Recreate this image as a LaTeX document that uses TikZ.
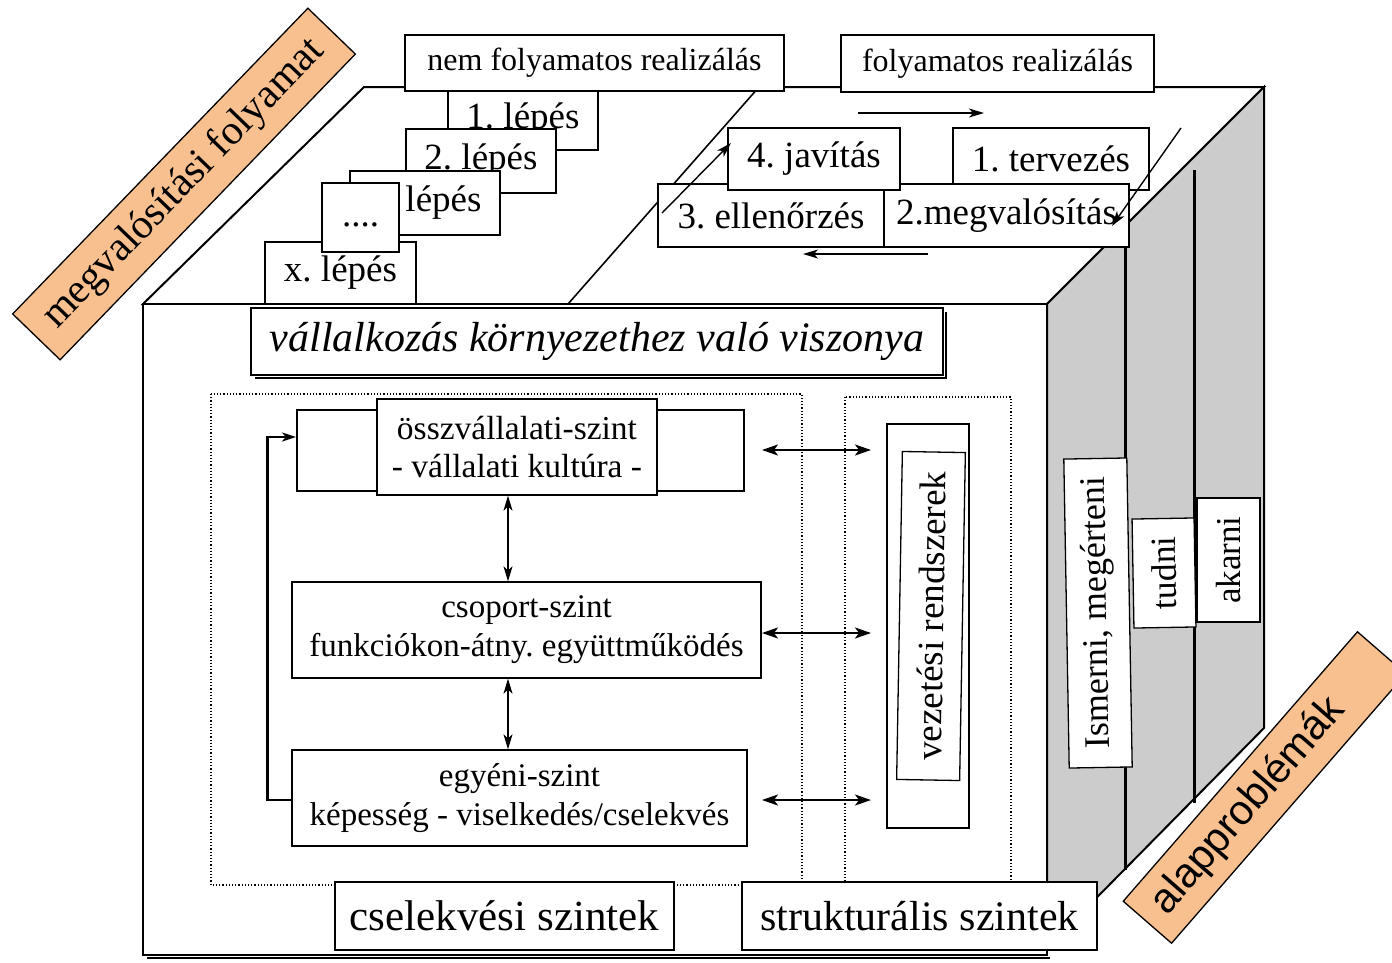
\documentclass[tikz,border=0pt]{standalone}
\usepackage{fontspec}
\setmainfont{Liberation Serif}
\newfontfamily\labelsans{Liberation Sans}
\usetikzlibrary{arrows.meta}
\newcommand\setfs[1]{\fontsize{#1}{#1}\selectfont}
\definecolor{peach}{HTML}{F9C08F}
\definecolor{sidegray}{HTML}{CCCCCC}
\frenchspacing

\begin{document}
\begin{tikzpicture}[x=1pt, y=-1pt,
  box/.style={draw, fill=white, line width=1.3pt, inner sep=0pt, align=center},
  thickbox/.style={box, line width=2pt},
  label/.style={draw, fill=peach, line width=1.3pt, inner sep=0pt},
  cubeedge/.style={line width=2pt, line join=miter},
  arr/.style={line width=1.4pt, -{Stealth[length=15pt,width=9pt,inset=4pt]}},
  darr/.style={line width=1.4pt, {Stealth[length=15pt,width=9pt,inset=4pt]}-{Stealth[length=15pt,width=9pt,inset=4pt]}},
  wdarr/.style={line width=2pt, {Stealth[length=16pt,width=11pt,inset=4pt]}-{Stealth[length=16pt,width=11pt,inset=4pt]}},
  frame/.style={draw, line width=1.2pt, dotted}]

\useasboundingbox (0,0) rectangle (1392,962);
\clip (0,0) rectangle (1392,962);

% ---- cube: top, side and front faces ----
\draw[cubeedge, fill=white] (143,304) -- (364,87) -- (1264,87) -- (1047,304) -- cycle;
\draw[cubeedge, fill=sidegray] (1047,304) -- (1264,87) -- (1264,728) -- (1047,948) -- cycle;
\draw[line width=1.5pt] (147,958) -- (1050,958);
\draw[cubeedge, fill=white] (143,304) rectangle (1047,955);

% dividing line on the top face
\draw[line width=1.6pt] (759,87) -- (568,304);

% layer lines on the side face
\draw[line width=3pt] (1125,248) -- (1125,870);
\draw[line width=3pt] (1194,170) -- (1194,803);

% ---- non-continuous realisation: stacked steps ----
\begin{scope}[every node/.style={box, font=\setfs{37}}]
  \node[minimum width=150, minimum height=61] (s1) at (523,119.5) {1. lépés};
  \node[minimum width=150, minimum height=64] (s2) at (481,161) {2. lépés};
  \node[minimum width=150, minimum height=64] (s3) at (425,203) {\hphantom{3. }lépés};
  \node[minimum width=151, minimum height=62] (sx) at (340.5,273) {x. lépés};
  \node[minimum width=77, minimum height=69] (sdots) at (360.5,217.5) {....\vphantom{lp}};
\end{scope}
\node[box, minimum width=379, minimum height=56, font=\setfs{32}] (nemfoly) at (594.5,63) {nem folyamatos realizálás};

% ---- continuous realisation: PDCA cycle ----
\begin{scope}[every node/.style={box, font=\setfs{37}}]
  \node[minimum width=196, minimum height=62] (terv) at (1051,159) {1. tervezés};
  \node[minimum width=245, minimum height=63] (megval) at (1006.5,215.5) {2.megvalósítás};
  \node[minimum width=226, minimum height=63] (ellen) at (771,215.5) {3. ellenőrzés};
  \node[minimum width=172, minimum height=62] (javit) at (814,159) {4. javítás};
\end{scope}
\node[box, minimum width=313, minimum height=57, font=\setfs{32}] (foly) at (997.5,63.5) {folyamatos realizálás};

\coordinate (c1a) at (858,113);   \coordinate (c1b) at (984,113);
\coordinate (c2a) at (1181,128);  \coordinate (c2b) at (1112,226);
\coordinate (c3a) at (928,254);   \coordinate (c3b) at (803,254);
\coordinate (c4a) at (662,213);   \coordinate (c4b) at (731,143);
\draw[arr] (c1a) -- (c1b);
\draw[arr] (c2a) -- (c2b);
\draw[arr] (c3a) -- (c3b);
\draw[arr] (c4a) -- (c4b);

% ---- front face ----
\draw[line width=1.3pt] (255,378) -- (946,378) -- (946,312);
\node[box, minimum width=692, minimum height=67, font=\itshape\setfs{42}] (kornyezet) at (597,341.5)
  {vállalkozás környezethez való viszonya};

\draw[frame] (211,394) rectangle (802,885);
\draw[frame] (845,397) rectangle (1011,885);

\node[thickbox, minimum width=447, minimum height=81] (osszkeret) at (520.5,450.5) {};
\node[box, minimum width=280, minimum height=96, font=\fontsize{33.5}{38.5}\selectfont] (ossz) at (517,447)
  {összvállalati-szint\\- vállalati kultúra -};
\node[box, minimum width=469, minimum height=96, font=\fontsize{33}{39}\selectfont] (csop) at (526.5,630)
  {csoport-szint\\funkciókon-átny. együttműködés};
\node[box, minimum width=455, minimum height=96, font=\fontsize{33}{38.5}\selectfont] (egyeni) at (519.5,798)
  {egyéni-szint\\képesség - viselkedés/cselekvés};

\draw[darr] ([xshift=-9pt]ossz.south) -- ([xshift=-18.5pt]csop.north);
\draw[darr] ([xshift=-18.5pt]csop.south) -- ([xshift=-11.5pt]egyeni.north);
\draw[line width=2.6pt, -{Stealth[length=14pt,width=9pt,inset=4pt]}]
  ([yshift=-2pt]egyeni.west) -- ++(-24,0) |- ([yshift=13.5pt]osszkeret.west);

\node[thickbox, minimum width=82, minimum height=404] (vezkeret) at (928,626) {};
\node[box, rotate=89, minimum width=328, minimum height=63, font=\setfs{37}] (vez) at (931,616) {vezetési rendszerek};

\coordinate (h1a) at (762,450); \coordinate (h1b) at (871,450);
\coordinate (h2a) at (762,633); \coordinate (h2b) at (871,633);
\coordinate (h3a) at (762,800); \coordinate (h3b) at (871,800);
\draw[wdarr] (h1a) -- (h1b);
\draw[wdarr] (h2a) -- (h2b);
\draw[wdarr] (h3a) -- (h3b);

\node[box, minimum width=339, minimum height=68, font=\setfs{43}] (cselek) at (504.5,916) {cselekvési szintek};
\node[box, minimum width=355, minimum height=68, font=\setfs{42}] (strukt) at (919.5,916) {strukturális szintek};

% ---- side face labels ----
\node[box, rotate=91, minimum width=309, minimum height=63, font=\setfs{36}] (ismerni) at (1098,613) {Ismerni, megérteni};
\node[box, rotate=91, minimum width=109, minimum height=62, font=\setfs{35.5}] (tudni) at (1164,573) {tudni};
\node[box, rotate=90, minimum width=124, minimum height=63, font=\setfs{35}] (akarni) at (1228.5,560) {akarni};

% ---- axis labels ----
\node[label, rotate=46, minimum width=425, minimum height=66, font=\setfs{41.5}] (folyamat) at (184,184)
  {megvalósítási folyamat};
\node[label, rotate=49, minimum width=357, minimum height=64, font=\labelsans\setfs{41.5}] (alap) at (1264.5,787.5)
  {alapproblémák\rule{50pt}{0pt}};

\end{tikzpicture}
\end{document}
